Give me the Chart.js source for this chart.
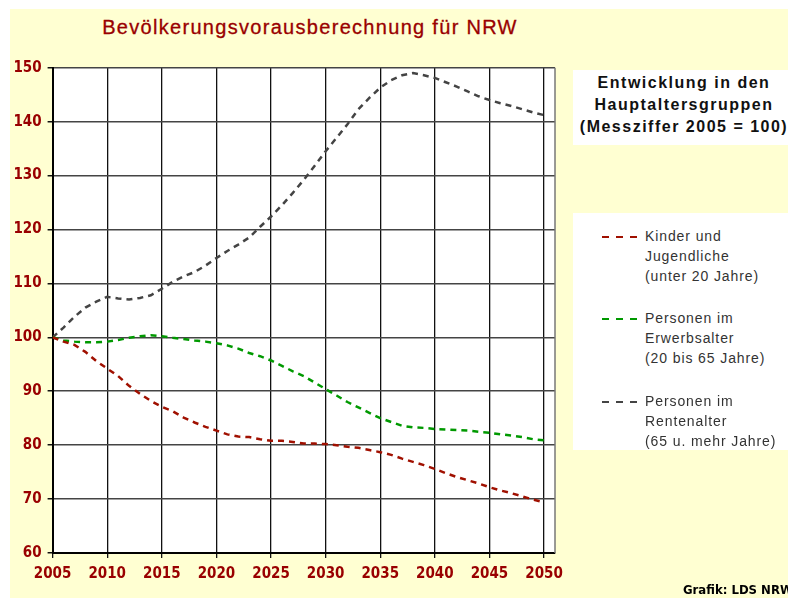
<!DOCTYPE html>
<html>
<head>
<meta charset="utf-8">
<script src="https://cdn.jsdelivr.net/npm/chart.js@4.4.1/dist/chart.umd.min.js"></script>
<style>
  body { margin: 0; width: 788px; height: 598px; overflow: hidden; position: relative; background: #fff; }
  #bg { position: absolute; left: 10px; top: 9px; right: 0; bottom: 0; background: #FFFFD2; }
  #wrap { position: absolute; left: 0; top: 0; width: 788px; height: 598px; }
  #title { position: absolute; left: 0; top: 16px; width: 620px; text-align: center;
           font: 20px "Liberation Sans", Arial, sans-serif; letter-spacing: 1.3px; color: #990000;
           -webkit-text-stroke: 0.3px #990000; }
  .box { position: absolute; background: #fff; }
  #head { left: 573px; top: 70px; width: 215px; height: 75px; }
  #headText { position: absolute; left: 573px; top: 72px; width: 222px; text-align: center;
              font: bold 16px "Liberation Sans", Arial, sans-serif; letter-spacing: 1.5px;
              line-height: 22px; color: #111; white-space: nowrap; }
  #legend { left: 573px; top: 213px; width: 215px; height: 237px; }
  .entry { position: absolute; left: 645px; font: 14px "Liberation Sans", Arial, sans-serif;
           letter-spacing: 0.9px; line-height: 20px; color: #333; white-space: nowrap; }
  .dash { position: absolute; left: 602px; width: 36px; height: 2px; }
  .dash span { position: absolute; top: 0; width: 7px; height: 2px; }
  #credit { position: absolute; left: 683px; top: 582px; white-space: nowrap;
            font: bold 13px "Liberation Sans Narrow", "DejaVu Sans Condensed", sans-serif; color: #000; }
</style>
</head>
<body>
<div id="bg"></div>
<div id="title">Bevölkerungsvorausberechnung für NRW</div>
<div id="wrap"><canvas id="chart"></canvas></div>
<div class="box" id="head"></div>
<div id="headText">Entwicklung in den<br>Hauptaltersgruppen<br>(Messziffer 2005 = 100)</div>
<div class="box" id="legend"></div>
<div id="legendItems"></div>
<div id="credit">Grafik: LDS NRW</div>
<script>
// Werte (Messziffer 2005 = 100)
const years = [2005, 2006, 2007, 2008, 2009, 2010, 2011, 2012, 2013, 2014,
               2015, 2016, 2017, 2018, 2019, 2020, 2021, 2022, 2023, 2024,
               2025, 2026, 2027, 2028, 2029, 2030, 2031, 2032, 2033, 2034,
               2035, 2036, 2037, 2038, 2039, 2040, 2041, 2042, 2043, 2044,
               2045, 2046, 2047, 2048, 2049, 2050];

const kinder = [100, 99.2, 98.6, 97.3, 95.6, 94.2, 92.8, 91, 89.5, 88.2,
                87.1, 86.3, 85.1, 84.2, 83.4, 82.7, 82, 81.6, 81.5, 81.1,
                80.8, 80.8, 80.6, 80.3, 80.3, 80.2, 80, 79.7, 79.5, 79.1,
                78.7, 78.2, 77.5, 76.9, 76.3, 75.6, 74.8, 74.1, 73.5, 72.9,
                72.2, 71.6, 71.1, 70.5, 69.9, 69.4];

const erwerb = [100, 99.4, 99.2, 99.1, 99.1, 99.2, 99.5, 99.9, 100.2, 100.4,
                100.2, 99.9, 99.7, 99.4, 99.2, 98.9, 98.5, 97.9, 97.1, 96.5,
                95.7, 94.7, 93.7, 92.8, 91.6, 90.4, 89.2, 88, 87, 86,
                85, 84.3, 83.6, 83.3, 83.2, 83, 82.9, 82.8, 82.7, 82.5,
                82.3, 82, 81.8, 81.5, 81.1, 80.9];

const rente = [100, 101.8, 103.8, 105.5, 106.6, 107.5, 107.2, 107, 107.3, 107.8,
               109, 110.3, 111.3, 112.1, 113.3, 114.7, 116, 117.2, 118.5, 120.5,
               122.4, 124.5, 126.8, 129.2, 131.8, 134.5, 137, 139.5, 142.3, 144.4,
               146.3, 147.7, 148.6, 149, 148.6, 148.1, 147.3, 146.5, 145.6, 144.7,
               144, 143.4, 142.9, 142.3, 141.7, 141.2];

const xTicks = [2005, 2010, 2015, 2020, 2025, 2030, 2035, 2040, 2045, 2050];
const yTicks = [60, 70, 80, 90, 100, 110, 120, 130, 140, 150];

const series = [
  { label: ['Kinder und', 'Jugendliche', '(unter 20 Jahre)'], data: kinder, color: '#A01000', top: 226 },
  { label: ['Personen im', 'Erwerbsalter', '(20 bis 65 Jahre)'], data: erwerb, color: '#009900', top: 308 },
  { label: ['Personen im', 'Rentenalter', '(65 u. mehr Jahre)'], data: rente, color: '#444444', top: 391 }
];

// Legende rechts
const legendEl = document.getElementById('legendItems');
series.forEach(s => {
  const t = document.createElement('div');
  t.className = 'entry';
  t.style.top = s.top + 'px';
  t.innerHTML = s.label.join('<br>');
  legendEl.appendChild(t);
  const d = document.createElement('div');
  d.className = 'dash';
  d.style.top = (s.top + 10) + 'px';
  [0, 14, 28].forEach(x => {
    const sp = document.createElement('span');
    sp.style.left = x + 'px';
    sp.style.background = s.color;
    d.appendChild(sp);
  });
  legendEl.appendChild(d);
});

const tickFont = { family: '"Liberation Sans Narrow", "DejaVu Sans Condensed", sans-serif', size: 15, weight: 'bold' };

const plotFrame = {
  id: 'plotFrame',
  beforeDraw(chart) {
    const { ctx, chartArea: a } = chart;
    ctx.save();
    ctx.fillStyle = '#fff';
    ctx.fillRect(a.left, a.top, a.right - a.left, a.bottom - a.top);
    ctx.restore();
  },
  beforeDatasetsDraw(chart) {
    const { ctx, chartArea: a } = chart;
    ctx.save();
    ctx.strokeStyle = '#777';
    ctx.lineWidth = 1.5;
    ctx.beginPath();
    ctx.moveTo(a.right, a.top);
    ctx.lineTo(a.right, a.bottom);
    ctx.stroke();
    ctx.restore();
  }
};

new Chart(document.getElementById('chart'), {
  type: 'line',
  data: {
    datasets: series.map(s => ({
      label: s.label.join(' '),
      data: years.map((y, i) => ({ x: y, y: s.data[i] })),
      borderColor: s.color,
      borderWidth: 2.5,
      borderDash: [6, 5],
      pointRadius: 0,
      tension: 0,
      fill: false
    }))
  },
  options: {
    responsive: true,
    maintainAspectRatio: false,
    animation: false,
    events: [],
    layout: { padding: { top: 67.7, right: 233, left: 0, bottom: 0 } },
    plugins: { legend: { display: false }, tooltip: { enabled: false } },
    scales: {
      x: {
        type: 'linear',
        min: 2005,
        max: 2051,
        afterBuildTicks: sc => { sc.ticks = xTicks.map(v => ({ value: v })); },
        afterFit: sc => { sc.height = 45; },
        grid: {
          color: ctx => ctx.tick && ctx.tick.value === 2005 ? 'rgba(0,0,0,0)' : '#111',
          lineWidth: 1.3,
          borderDash: [4, 3],
          tickLength: 5,
          tickColor: '#111',
          tickBorderDash: []
        },
        border: { color: '#000', width: 2 },
        ticks: { color: '#990000', font: tickFont, padding: 7, maxRotation: 0, autoSkip: false,
                 callback: v => String(v) }
      },
      y: {
        min: 60,
        max: 150,
        afterBuildTicks: sc => { sc.ticks = yTicks.map(v => ({ value: v })); },
        afterFit: sc => { sc.width = 52.6; },
        grid: {
          color: '#444',
          lineWidth: 1.5,
          tickLength: 5,
          tickColor: '#111'
        },
        border: { color: '#000', width: 2 },
        ticks: { color: '#990000', font: tickFont, padding: 6 }
      }
    }
  },
  plugins: [plotFrame]
});
</script>
</body>
</html>
